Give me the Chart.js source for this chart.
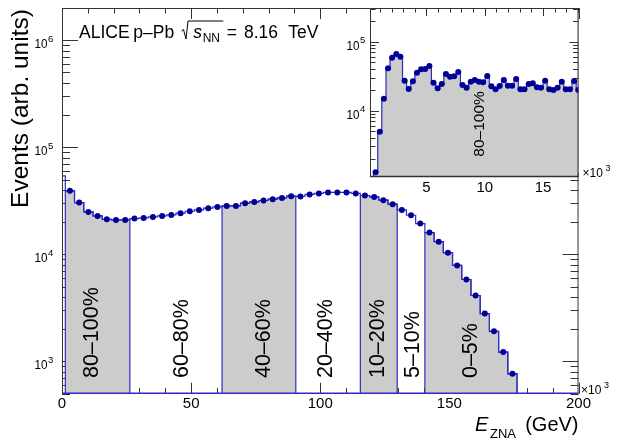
<!DOCTYPE html>
<html>
<head>
<meta charset="utf-8">
<script src="https://cdn.jsdelivr.net/npm/chart.js@4.4.1/dist/chart.umd.min.js"></script>
<style>
html, body { margin: 0; padding: 0; background: #fff; overflow: hidden; }
#wrap { position: relative; width: 623px; height: 448px; }
#mainChart { position: absolute; left: 0; top: 0; }
#insetChart { position: absolute; left: 330px; top: 0; }
</style>
</head>
<body>
<div id="wrap">
  <canvas id="mainChart" width="623" height="448"></canvas>
  <canvas id="insetChart" width="293" height="200"></canvas>
</div>
<script>
const FONT = '"Liberation Sans", Arial, Helvetica, sans-serif';
const LINE = 'rgb(45,45,190)';
const MARK = 'rgb(0,0,150)';
const FILL = 'rgb(204,204,204)';
const FRAME = '#333';

// main histogram: E_ZNA bin centres (GeV) and event counts
const binWidth = 3.57;
const eCentres = [-0.50, 3.07, 6.64, 10.21, 13.78, 17.35, 20.92, 24.49, 28.06, 31.63,
  35.20, 38.77, 42.34, 45.91, 49.48, 53.05, 56.62, 60.19, 63.76, 67.33,
  70.90, 74.47, 78.04, 81.61, 85.18, 88.75, 92.32, 95.89, 99.46, 103.03,
  106.60, 110.17, 113.74, 117.31, 120.88, 124.45, 128.02, 131.59, 135.16, 138.73,
  142.30, 145.87, 149.44, 153.01, 156.58, 160.15, 163.72, 167.29, 170.86, 174.43];
const counts = [54200, 39200, 30500, 24900, 22850, 21280, 20960, 20960, 21610, 21890,
  22370, 22850, 23360, 24240, 25290, 26020, 26990, 27760, 28370, 28370,
  30060, 30900, 31860, 32780, 33710, 34970, 34750, 36270, 37060, 37870,
  37870, 37870, 37060, 35490, 34440, 32070, 29420, 26020, 23210, 19400,
  15970, 13150, 10370, 7890, 5830, 4130, 2800, 1910, 1225, 767];

// centrality classes
const classNames = ['80–100%', '60–80%', '40–60%', '20–40%', '10–20%', '5–10%', '0–5%'];
const classEdges = [0, 26.27, 61.97, 90.53, 115.52, 129.80, 140.51, 176.21];
const classShaded = [true, false, true, false, true, false, true];
const classLabelX = [14.1, 48.6, 80.4, 104.5, 124.6, 138.1, 160.7];
const classLabelY = 700;

// inset: low-energy part, finer bins (x10^3)
const insetWidth = 0.355;
const insetCentres = [0.63, 0.99, 1.34, 1.70, 2.05, 2.41, 2.76, 3.12, 3.47, 3.83,
  4.18, 4.54, 4.89, 5.25, 5.60, 5.96, 6.31, 6.67, 7.02, 7.38,
  7.73, 8.09, 8.44, 8.80, 9.15, 9.51, 9.86, 10.22, 10.57, 10.93,
  11.28, 11.64, 11.99, 12.35, 12.70, 13.06, 13.41, 13.77, 14.12, 14.48,
  14.83, 15.19, 15.54, 15.90, 16.25, 16.61, 16.96, 17.32, 17.67, 18.03];
const insetCounts = [1264, 4920, 14840, 41060, 58530, 66260, 60530, 27120, 20540, 26570,
  35430, 39710, 40110, 44360, 25360, 21020, 24280, 33920, 31000, 31420,
  36270, 23480, 21450, 26220, 27760, 26220, 25700, 31730, 22470, 20330,
  22700, 27760, 22930, 22930, 28700, 20330, 20330, 24280, 24850, 21740,
  21450, 27120, 20330, 19860, 21450, 26220, 20330, 20330, 26840, 19860];

const yMin = 500, yMax = 2e6;
const insetYMin = 1080, insetYMax = 3.1e5;

// histogram outline between lo and hi, closed down to the floor at both ends
function stepPoints(centres, values, w, lo, hi, floor) {
  const pts = [];
  let last = null;
  centres.forEach((c, i) => {
    if (c < lo || c > hi) return;
    const x = Math.max(lo, c - w / 2);
    if (!pts.length) pts.push({x: x, y: floor});
    pts.push({x: x, y: values[i]});
    last = {x: Math.min(hi, c + w / 2), y: values[i]};
  });
  pts.push(last, {x: last.x, y: floor});
  return pts;
}

function logTicks(lo, hi) {
  const out = [];
  for (let d = Math.floor(Math.log10(lo)); d <= Math.ceil(Math.log10(hi)); d++) {
    for (let m = 1; m <= 9; m++) {
      const v = m * Math.pow(10, d);
      if (v >= lo * 0.999 && v <= hi * 1.001) out.push({v: v, major: m === 1});
    }
  }
  return out;
}

function txt(ctx, s, x, y, size, opt) {
  opt = opt || {};
  ctx.save();
  ctx.font = (opt.italic ? 'italic ' : '') + size + 'px ' + FONT;
  ctx.fillStyle = '#000';
  ctx.textAlign = opt.align || 'left';
  ctx.textBaseline = 'alphabetic';
  ctx.translate(x, y);
  if (opt.rot) ctx.rotate(opt.rot);
  if (opt.sx) ctx.scale(opt.sx, 1);
  ctx.fillText(s, 0, 0);
  ctx.restore();
}

function powLabel(ctx, exp, xr, yTick) {
  txt(ctx, '10', xr, yTick + 8, 13, {align: 'right', sx: 0.9});
  txt(ctx, String(exp), xr + 0.5, yTick + 1.5, 9.5);
}

function times10(ctx, x, y) {
  txt(ctx, '×10', x, y, 12);
  txt(ctx, '3', x + 23, y - 6, 9);
}

function drawTicks(ctx, a, xs, ys, xList, yList, xLen, yLen) {
  ctx.save();
  ctx.strokeStyle = FRAME;
  ctx.lineWidth = 1;
  ctx.beginPath();
  xList.forEach(t => {
    const px = Math.round(xs.getPixelForValue(t.v)) + 0.5;
    const len = t.major ? xLen[0] : xLen[1];
    ctx.moveTo(px, a.bottom); ctx.lineTo(px, a.bottom - len);
    ctx.moveTo(px, a.top); ctx.lineTo(px, a.top + len);
  });
  yList.forEach(t => {
    const py = Math.round(ys.getPixelForValue(t.v)) + 0.5;
    const len = t.major ? yLen[0] : yLen[1];
    ctx.moveTo(a.left, py); ctx.lineTo(a.left + len, py);
    ctx.moveTo(a.right, py); ctx.lineTo(a.right - len, py);
  });
  ctx.stroke();
  ctx.restore();
}

function drawFrame(ctx, a, bottomColor) {
  ctx.save();
  ctx.lineWidth = 1;
  ctx.strokeStyle = FRAME;
  ctx.beginPath();
  ctx.moveTo(a.left + 0.5, a.bottom);
  ctx.lineTo(a.left + 0.5, a.top + 0.5);
  ctx.lineTo(a.right - 0.5, a.top + 0.5);
  ctx.lineTo(a.right - 0.5, a.bottom);
  ctx.stroke();
  ctx.strokeStyle = bottomColor;
  ctx.lineWidth = 1.4;
  ctx.beginPath();
  ctx.moveTo(a.left, a.bottom - 0.5);
  ctx.lineTo(a.right, a.bottom - 0.5);
  ctx.stroke();
  ctx.restore();
}

const mainXTicks = [];
for (let v = 0; v <= 200; v += 10) mainXTicks.push({v: v, major: v % 50 === 0});
const insetXTicks = [];
for (let v = 1; v <= 18; v += 1) insetXTicks.push({v: v, major: v % 5 === 0});

const mainDecor = {
  id: 'mainDecor',
  beforeDatasetsDraw(chart) {
    const {ctx, chartArea: a, scales: {x, y}} = chart;
    drawTicks(ctx, a, x, y, mainXTicks, logTicks(yMin, yMax), [11, 5.5], [16, 8]);
  },
  afterDatasetsDraw(chart) {
    const {ctx, chartArea: a, scales: {x, y}} = chart;
    drawFrame(ctx, a, LINE);

    // tick labels
    [0, 50, 100, 150, 200].forEach(v => txt(ctx, String(v), x.getPixelForValue(v), 408, 15, {align: 'center'}));
    [3, 4, 5, 6].forEach(d => powLabel(ctx, d, a.left - 14.5, y.getPixelForValue(Math.pow(10, d))));
    times10(ctx, a.right + 2.5, a.bottom);

    // axis titles
    txt(ctx, 'Events (arb. units)', 28, 108.5, 24.5, {align: 'center', rot: -Math.PI / 2});
    txt(ctx, 'E', 475, 431, 20, {italic: true});
    txt(ctx, 'ZNA', 490, 437.5, 13);
    txt(ctx, '(GeV)', a.right, 431, 20, {align: 'right'});

    // centrality labels
    classNames.forEach((name, k) => {
      txt(ctx, name, x.getPixelForValue(classLabelX[k]), y.getPixelForValue(classLabelY), 21.5, {rot: -Math.PI / 2});
    });

    // ALICE p-Pb header
    const base = 38.3;
    txt(ctx, 'ALICE', 79, base, 17.5);
    txt(ctx, 'p–Pb', 133.3, base, 17.5);
    ctx.save();
    ctx.strokeStyle = '#000';
    ctx.lineWidth = 1;
    ctx.beginPath();
    ctx.moveTo(181.5, 31); ctx.lineTo(183.5, 29.5); ctx.lineTo(186, 39);
    ctx.lineTo(188, 21); ctx.lineTo(223.3, 21);
    ctx.stroke();
    ctx.restore();
    txt(ctx, 's', 193.3, base, 17.5, {italic: true});
    txt(ctx, 'NN', 202.7, 42.3, 12);
    txt(ctx, '=', 226.7, base, 17.5);
    txt(ctx, '8.16', 244, base, 17.5);
    txt(ctx, 'TeV', 288.3, base, 17.5);
  }
};

const insetDecor = {
  id: 'insetDecor',
  beforeDraw(chart) {
    const {ctx, chartArea: a} = chart;
    ctx.save();
    ctx.fillStyle = '#fff';
    ctx.fillRect(a.left, a.top, a.right - a.left, a.bottom - a.top);
    ctx.restore();
  },
  beforeDatasetsDraw(chart) {
    const {ctx, chartArea: a, scales: {x, y}} = chart;
    drawTicks(ctx, a, x, y, insetXTicks, logTicks(insetYMin, insetYMax), [8, 4.5], [9, 5.5]);
  },
  afterDatasetsDraw(chart) {
    const {ctx, chartArea: a, scales: {x, y}} = chart;
    drawFrame(ctx, a, FRAME);
    [5, 10, 15].forEach(v => txt(ctx, String(v), x.getPixelForValue(v), 191.5, 15, {align: 'center'}));
    [4, 5].forEach(d => powLabel(ctx, d, a.left - 10.5, y.getPixelForValue(Math.pow(10, d))));
    times10(ctx, a.right + 4, a.bottom);
    txt(ctx, '80–100%', x.getPixelForValue(9.9), y.getPixelForValue(2130), 15.5, {rot: -Math.PI / 2});
  }
};

function baseOptions(xMin, xMax, yLo, yHi, pad) {
  return {
    responsive: false,
    animation: false,
    events: [],
    layout: {padding: pad},
    plugins: {legend: {display: false}, tooltip: {enabled: false}},
    scales: {
      x: {type: 'linear', min: xMin, max: xMax, display: false},
      y: {type: 'logarithmic', min: yLo, max: yHi, display: false}
    }
  };
}

// main chart
const mainSets = [];
mainSets.push({
  label: 'data',
  data: eCentres.map((c, i) => ({x: c, y: counts[i]})).filter(p => p.x > 0),
  showLine: false,
  pointRadius: 3,
  pointBackgroundColor: MARK,
  pointBorderWidth: 0,
  order: 0
});
mainSets.push({
  label: 'histogram',
  data: stepPoints(eCentres, counts, binWidth, -Infinity, Infinity, yMin),
  stepped: true,
  borderColor: LINE,
  borderWidth: 1.2,
  pointRadius: 0,
  fill: false,
  order: 1
});
classNames.forEach((name, k) => {
  if (!classShaded[k]) return;
  mainSets.push({
    label: name,
    data: stepPoints(eCentres, counts, binWidth, classEdges[k], classEdges[k + 1], yMin),
    stepped: true,
    borderColor: LINE,
    borderWidth: 1.2,
    backgroundColor: FILL,
    fill: 'start',
    pointRadius: 0,
    order: 2
  });
});

const mainChart = new Chart(document.getElementById('mainChart').getContext('2d'), {
  type: 'line',
  data: {datasets: mainSets},
  options: baseOptions(0, 200, yMin, yMax, {left: 62, top: 8, right: 44.5, bottom: 54.3}),
  plugins: [mainDecor]
});

// inset chart
const insetChart = new Chart(document.getElementById('insetChart').getContext('2d'), {
  type: 'line',
  data: {
    datasets: [{
      label: 'inset data',
      data: insetCentres.map((c, i) => ({x: c, y: insetCounts[i]})),
      showLine: false,
      pointRadius: 3,
      pointBackgroundColor: MARK,
      pointBorderWidth: 0,
      order: 0
    }, {
      label: '80–100%',
      data: stepPoints(insetCentres, insetCounts, insetWidth, -Infinity, Infinity, insetYMin),
      stepped: true,
      borderColor: LINE,
      borderWidth: 1.2,
      backgroundColor: FILL,
      fill: 'start',
      pointRadius: 0,
      order: 1
    }]
  },
  options: baseOptions(0.15, 18.05, insetYMin, insetYMax, {left: 40, top: 8, right: 44.5, bottom: 23}),
  plugins: [insetDecor]
});
</script>
</body>
</html>
